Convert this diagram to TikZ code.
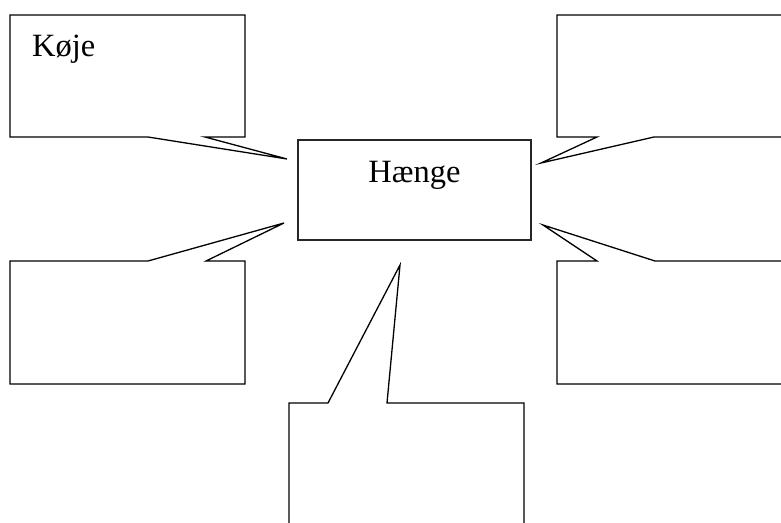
\documentclass[tikz,border=0pt]{standalone}
\usepackage{fontspec}
\setmainfont{Liberation Serif}
\begin{document}
\begin{tikzpicture}[x=1pt,y=-1pt,
  callout/.style={draw=black,line width=1.3pt,line join=miter,fill=white},
  centerbox/.style={draw=black!85,line width=1.1pt,fill=white},
  lbl/.style={font=\fontsize{32.5}{38}\selectfont,inner sep=0pt}]
\useasboundingbox (0,0) rectangle (781,522);
\clip (0,0) rectangle (781,522);
% top-left callout
\draw[callout] (10,15) -- (245,15) -- (245,137) -- (205,137) -- (287,159) -- (148,137) -- (10,137) -- cycle;
% top-right callout
\draw[callout] (557,15) -- (800,15) -- (800,137) -- (654,137) -- (541,163) -- (597,137) -- (557,137) -- cycle;
% bottom-left callout
\draw[callout] (10,261) -- (148,261) -- (284,223) -- (206,261) -- (245,261) -- (245,384) -- (10,384) -- cycle;
% bottom-right callout
\draw[callout] (557,261) -- (597,261) -- (543,225) -- (655,261) -- (800,261) -- (800,384) -- (557,384) -- cycle;
% bottom callout
\draw[callout] (289,403) -- (328,403) -- (400,265) -- (387,403) -- (524,403) -- (524,540) -- (289,540) -- cycle;
% center box
\node[centerbox,minimum width=233pt,minimum height=100pt,inner sep=0pt] (center) at (414.5,190) {};
\node[lbl,anchor=base] (haenge) at (414.5,182) {Hænge};
\node[lbl,anchor=base west] (koje) at (32,56) {Køje};
\end{tikzpicture}
\end{document}
